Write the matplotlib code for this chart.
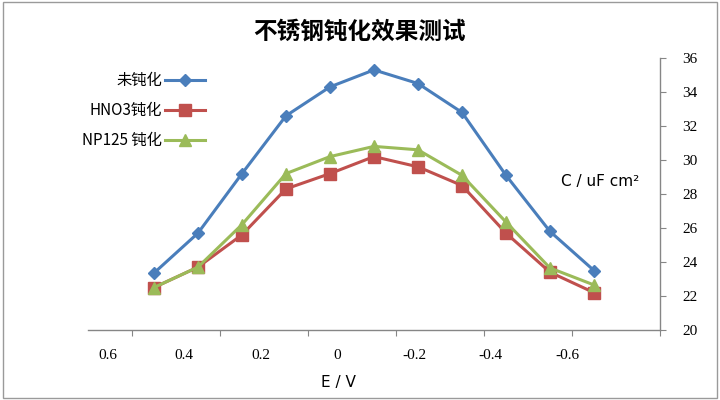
import numpy as np
import matplotlib
matplotlib.use("Agg")
import matplotlib.pyplot as plt
from matplotlib.patches import Rectangle
from matplotlib.lines import Line2D

plt.rcParams['font.family'] = ['Noto Sans CJK SC', 'DejaVu Sans']

# data (categories shown left to right, as in the reference)
categories = np.arange(11)
untreated = [23.35, 25.7, 29.2, 32.6, 34.3, 35.3, 34.5, 32.8, 29.1, 25.8, 23.5]
hno3 = [22.5, 23.7, 25.6, 28.3, 29.2, 30.2, 29.6, 28.5, 25.7, 23.4, 22.2]
np125 = [22.5, 23.7, 26.2, 29.2, 30.2, 30.8, 30.6, 29.1, 26.35, 23.65, 22.65]
series_names = ['未钝化', 'HNO3钝化', 'NP125 钝化']
x_tick_values = [0.6, 0.4, 0.2, 0, -0.2, -0.4, -0.6]
y_ticks = [20, 22, 24, 26, 28, 30, 32, 34, 36]

colors = ['#4A7EBB', '#C0504D', '#9BBB59']
markers = ['D', 's', '^']
msizes = [6.5, 8, 8]

fig = plt.figure(figsize=(7.2, 4), dpi=100)
fig.patches.append(Rectangle((0.004, 0.006), 0.992, 0.988, transform=fig.transFigure,
                             fill=False, edgecolor='#9a9a9a', linewidth=1.0))

ax = fig.add_axes([0.1222, 0.175, 0.7944, 0.68])

for vals, name, c, m, ms in zip([untreated, hno3, np125], series_names, colors, markers, msizes):
    ax.plot(categories, vals, color=c, linewidth=2.2, marker=m, markersize=ms,
            markeredgecolor=c, label=name)

ax.set_xlim(-1.5, 11.5)
ax.set_ylim(20, 36)

# axis lines like the reference: y axis on the right, x axis at the bottom
for s in ['top', 'left']:
    ax.spines[s].set_visible(False)
for s in ['right', 'bottom']:
    ax.spines[s].set_color('#868686')
    ax.spines[s].set_linewidth(1.0)

ax.yaxis.tick_right()
ax.set_yticks(y_ticks)
ax.set_yticklabels([str(v) for v in y_ticks], family='Liberation Serif', fontsize=11)
ax.tick_params(axis='y', direction='out', length=4, color='#868686', pad=12)

# tick marks between every second category, labels on their own positions
ax.set_xticks(np.arange(-0.5, 12, 2))
ax.set_xticklabels([])
ax.tick_params(axis='x', which='major', direction='out', length=4, color='#868686')


def e_to_pos(v):
    return 4.17 - 8.7 * v


ax.set_xticks([e_to_pos(v) for v in x_tick_values], minor=True)
ax.set_xticklabels([f'{v:g}' for v in x_tick_values], minor=True,
                   family='Liberation Serif', fontsize=11)
ax.tick_params(axis='x', which='minor', length=0, pad=14)

fig.text(0.5, 0.922, '不锈钢钝化效果测试', ha='center', va='center',
         fontsize=17, fontweight='bold')
fig.text(0.47, 0.043, 'E / V', ha='center', va='center', fontsize=11,
         family=['DejaVu Sans'])
fig.text(0.833, 0.545, 'C / uF cm²', ha='center', va='center', fontsize=11,
         family=['DejaVu Sans'])

handles = [Line2D([0], [0], color=c, marker=m, markersize=ms, linewidth=2.2)
           for c, m, ms in zip(colors, markers, msizes)]
leg = ax.legend(handles, series_names, loc='upper left', bbox_to_anchor=(-0.034, 0.998),
                frameon=False, markerfirst=False, fontsize=11, handlelength=2.6,
                handletextpad=0.2, labelspacing=0.85)

fig.savefig('out.png', dpi=100)
